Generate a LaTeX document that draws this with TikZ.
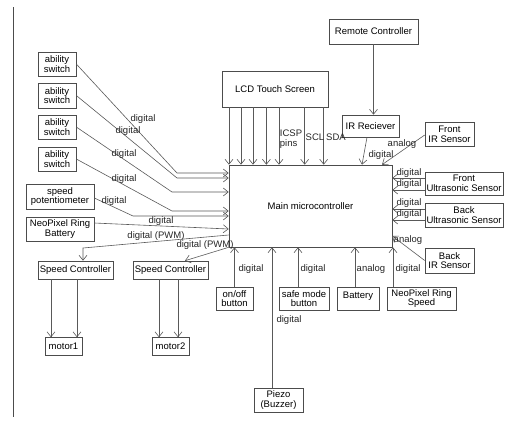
\documentclass[tikz,border=0pt]{standalone}
\usepackage{fontspec}
\setmainfont{Liberation Sans}
\usetikzlibrary{calc,arrows.meta,positioning}
\tikzset{
    block/.style={draw=black!70, line width=0.6pt, inner sep=0.8pt, align=center, font=\fontsize{9.5}{9.6}\selectfont},
    boxsize/.style 2 args={minimum width=#1pt, minimum height=#2pt},
    edge/.style={draw=black!65, line width=0.6pt, -{Straight Barb[length=5pt,width=8pt]}},
    tag/.style={inner sep=0pt, font=\fontsize{9.5}{9.6}\selectfont, text=black!85}
}
\begin{document}
\begin{tikzpicture}[x=1pt, y=-1pt]
    \useasboundingbox (0,0) rectangle (506,421);
    \draw[black!70, line width=0.7pt] (13,7) -- (13,417);

    % Nodes
    \node[block, boxsize={163}{82}] (mcu) at (310.5,206) {Main microcontroller};
    \node[block, boxsize={89}{25}] (remote) at (373.5,31.5) {Remote Controller};
    \node[block, boxsize={106}{36}] (lcd) at (275,89) {LCD Touch Screen};
    \node[block, boxsize={57}{22}] (ir) at (370.5,126) {IR Reciever};
    \node[block, boxsize={49}{24}] (fir) at (449.5,134) {Front\\IR Sensor};
    \node[block, boxsize={78}{23}] (fus) at (464,183.5) {Front\\Ultrasonic Sensor};
    \node[block, boxsize={78}{24}] (bus) at (464,215) {Back\\Ultrasonic Sensor};
    \node[block, boxsize={49}{25}] (bir) at (449.5,260.5) {Back\\IR Sensor};

    \node[block, boxsize={38}{24}] (sw1) at (57,64) {ability\\switch};
    \node[block, boxsize={38}{25}] (sw2) at (57,95.5) {ability\\switch};
    \node[block, boxsize={38}{24}] (sw3) at (57,127) {ability\\switch};
    \node[block, boxsize={38}{24}] (sw4) at (57,159) {ability\\switch};
    \node[block, boxsize={68}{25}] (pot) at (60,196.5) {speed\\potentiometer};
    \node[block, boxsize={68}{24}] (neobat) at (60,229) {NeoPixel Ring\\Battery};

    \node[block, boxsize={75}{18}] (sc1) at (75.5,270) {Speed Controller};
    \node[block, boxsize={75}{18}] (sc2) at (170.5,270) {Speed Controller};
    \node[block, boxsize={37}{18}] (m1) at (63.5,346) {motor1};
    \node[block, boxsize={37}{18}] (m2) at (170.5,346) {motor2};

    \node[block, boxsize={37}{23}] (onoff) at (234.5,298.5) {on/off\\button};
    \node[block, boxsize={50}{23}] (safe) at (304,298.5) {safe mode\\button};
    \node[block, boxsize={42}{23}, text depth=6pt] (batt) at (358,298.5) {Battery};
    \node[block, boxsize={69}{23}] (neospd) at (421.5,298.5) {NeoPixel Ring\\Speed};
    \node[block, boxsize={49}{24}] (piezo) at (278.5,400) {Piezo\\(Buzzer)};

    % edges
    \foreach \d [count=\i] in {7.3,19.3,31.3,44.7,57.3,83,102} {
        \coordinate (lcd\i) at ($(lcd.south west)+(\d,0)$);
        \draw[edge] (lcd\i) -- (lcd\i |- mcu.north);
    }
    \draw[edge] (remote.south) -- (remote.south |- ir.north);
    \draw[edge] ([xshift=-3.5pt]ir.south) -- ([xshift=51.5pt]mcu.north);
    \draw[edge] ([yshift=-1pt]fir.west) -- ([xshift=71.5pt]mcu.north);
    \coordinate (fu1) at ([yshift=5.5pt]fus.west);
    \coordinate (fu2) at ([yshift=-6.5pt]fus.west);
    \coordinate (bu1) at ([yshift=6pt]bus.west);
    \coordinate (bu2) at ([yshift=-5pt]bus.west);
    \foreach \c in {fu1,fu2,bu1,bu2}
        \draw[edge] (\c) -- (\c -| mcu.east);
    \draw[edge] (bir.west) -- ([yshift=-30pt]mcu.east);

    \coordinate (b1) at (177,173);
    \coordinate (b2) at (177,178);
    \coordinate (b3) at (172,192);
    \coordinate (b4) at (172,211);
    \coordinate (b5) at (133,216);
    \draw[edge] (sw1.east) -- (b1) -- (b1 -| mcu.west);
    \draw[edge] (sw2.east) -- (b2) -- (b2 -| mcu.west);
    \draw[edge] (sw3.east) -- (b3) -- (b3 -| mcu.west);
    \draw[edge] (sw4.east) -- (b4) -- (b4 -| mcu.west);
    \draw[edge] ([yshift=-1.5pt]pot.east) -- (b5) -- (b5 -| mcu.west);
    \draw[edge] ([yshift=6pt]neobat.east) -- (neobat.east -| mcu.west);

    \coordinate (p1) at (83,248);
    \draw[edge] ([yshift=-29pt]mcu.west) -- (p1) -- (p1 |- sc1.north);
    \draw[edge] (mcu.south west) -- ([xshift=14.5pt]sc2.north);
    \foreach \s/\d in {sc1/-24.5,sc1/1.5,sc2/-11.5,sc2/7.5} {
        \coordinate (mt) at ([xshift=\d pt]\s.south);
        \draw[edge] (mt) -- ++(0,58);
    }

    \draw[edge] (onoff.north) -- (onoff.north |- mcu.south);
    \draw[edge] ([xshift=-6pt]safe.north) -- ([xshift=-6pt]safe.north |- mcu.south);
    \draw[edge] ([xshift=-3pt]batt.north) -- ([xshift=-3pt]batt.north |- mcu.south);
    \draw[edge] ([xshift=-28.5pt]neospd.north) -- ([xshift=-28.5pt]neospd.north |- mcu.south);
    \draw[edge] ([xshift=-6.5pt]piezo.north) -- ([xshift=-6.5pt]piezo.north |- mcu.south);

    % labels
    \node[tag, align=left] (icsp) at (291,139) {ICSP\\pins};
    \node[tag, anchor=west] (scl) at (305.5,137) {SCL};
    \node[tag, anchor=west] (sda) at (326,137) {SDA};
    \node[tag] (irlbl) at (381,155) {digital};
    \node[tag] (firlbl) at (402,144) {analog};
    \node[tag] (fu1lbl) at (409,173) {digital};
    \node[tag] (fu2lbl) at (409,184) {digital};
    \node[tag] (bu1lbl) at (409,203) {digital};
    \node[tag] (bu2lbl) at (409,214) {digital};
    \node[tag] (birlbl) at (408,240) {analog};
    \node[tag] (sw1lbl) at (143,119) {digital};
    \node[tag] (sw2lbl) at (128,131) {digital};
    \node[tag] (sw3lbl) at (124,154) {digital};
    \node[tag] (sw4lbl) at (124,179) {digital};
    \node[tag] (potlbl) at (114,201) {digital};
    \node[tag] (neobatlbl) at (161,221) {digital};
    \node[tag] (pwm1lbl) at (156,236) {digital (PWM)};
    \node[tag] (pwm2lbl) at (205,245) {digital (PWM)};
    \node[tag] (onofflbl) at (251,269) {digital};
    \node[tag] (safelbl) at (313,269) {digital};
    \node[tag] (battlbl) at (371,269) {analog};
    \node[tag] (neospdlbl) at (408,269) {digital};
    \node[tag] (piezolbl) at (289,320) {digital};
\end{tikzpicture}
\end{document}
